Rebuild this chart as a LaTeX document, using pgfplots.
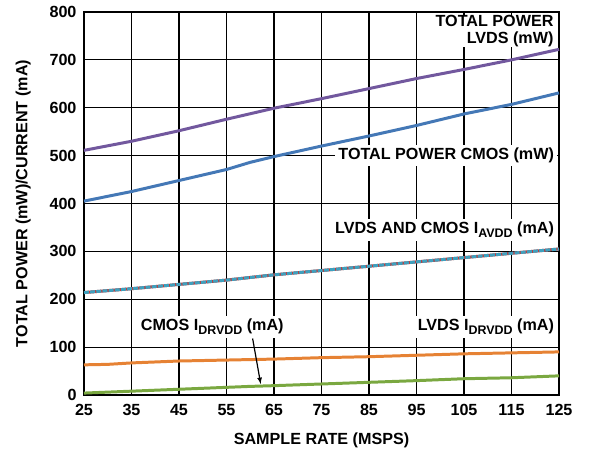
\documentclass[border=0pt]{standalone}
\usepackage{fontspec}
\setmainfont{Liberation Sans}
\usepackage{pgfplots}
\pgfplotsset{compat=1.18}
\definecolor{cpurple}{RGB}{114,88,158}
\definecolor{cblue}{RGB}{68,120,182}
\definecolor{cteal}{RGB}{62,160,190}
\definecolor{cred}{RGB}{190,60,60}
\definecolor{corange}{RGB}{230,130,52}
\definecolor{cgreen}{RGB}{122,168,64}
\newcommand{\sub}[1]{\raisebox{-0.5ex}{\fontsize{12.5}{13}\selectfont #1}}
\begin{document}
\begin{tikzpicture}
\begin{axis}[
  scale only axis,
  width=475bp, height=383bp,
  xmin=25, xmax=125, ymin=0, ymax=800,
  xtick={25,35,...,125}, ytick={0,100,...,800},
  grid=major,
  major grid style={black, line width=1.2pt},
  axis line style={black, line width=1.6pt},
  tick style={draw=none},
  /pgf/number format/assume math mode=true,
  ticklabel style={font=\fontsize{16.2}{18}\selectfont\bfseries},
  xticklabel style={yshift=-6bp},
  yticklabel style={xshift=-4bp},
  label style={font=\fontsize{16.2}{18}\selectfont\bfseries},
  xlabel={SAMPLE RATE (MSPS)},
  ylabel={TOTAL POWER (mW)/CURRENT (mA)},
  xlabel style={yshift=-10bp},
  ylabel style={yshift=12bp},
  clip=false,
]
% TOTAL POWER LVDS
\addplot[cpurple, line width=3pt] coordinates {
(25,511) (35,530) (45,552) (55,576) (65,599) (75,619) (85,640) (95,661) (105,680) (115,700) (125,722)};
% TOTAL POWER CMOS
\addplot[cblue, line width=3pt] coordinates {
(25,405) (35,425) (45,448) (55,471) (60,486) (65,498) (75,520) (85,541) (95,563) (105,587) (115,607) (125,631)};
% IAVDD (two overlapping)
\addplot[cred, line width=3pt] coordinates {
(25,214) (35,222) (45,231) (55,240) (65,251) (75,260) (85,269) (95,278) (105,287) (115,296) (125,305)};
\addplot[cteal, line width=3pt, dash pattern=on 5pt off 1.2pt] coordinates {
(25,214) (35,222) (45,231) (55,240) (65,251) (75,260) (85,269) (95,278) (105,287) (115,296) (125,305)};
% LVDS IDRVDD
\addplot[corange, line width=3pt] coordinates {
(25,63) (30,64) (35,67) (45,71) (55,73) (65,75) (75,78) (85,80) (95,83) (105,86) (115,88) (125,90)};
% CMOS IDRVDD
\addplot[cgreen, line width=3pt] coordinates {
(25,4) (35,8) (45,12) (55,16) (60,18) (65,19.5) (75,23) (85,26.5) (95,30) (105,34) (115,36) (125,40)};

\tikzset{lab/.style={fill=white, inner sep=3bp, font=\fontsize{16.2}{18.5}\selectfont\bfseries}}
\node[lab, anchor=north east, align=right, inner xsep=3bp, inner ysep=0bp, font=\fontsize{16.2}{17}\selectfont\bfseries] at (rel axis cs:0.995,0.991) {TOTAL POWER\\LVDS (mW)};
\node[lab, anchor=east] at (axis cs:124.6,500) {TOTAL POWER CMOS (mW)};
\node[lab, anchor=east] at (axis cs:124.6,345) {LVDS AND CMOS I\sub{AVDD} (mA)};
\node[lab, anchor=east] at (axis cs:124.6,143) {LVDS I\sub{DRVDD} (mA)};
\node[lab, anchor=west] at (axis cs:36.3,143) {CMOS I\sub{DRVDD} (mA)};
\draw[-{latex}, line width=1.2pt] (axis cs:60.5,118) -- (axis cs:62.2,23);
\path (rel axis cs:0,0) ++(-84bp,-59bp) coordinate (bbA);
\path (rel axis cs:1,1) ++(30bp,12bp) coordinate (bbB);
\end{axis}
\path (bbA) rectangle (bbB);
\end{tikzpicture}
\end{document}
